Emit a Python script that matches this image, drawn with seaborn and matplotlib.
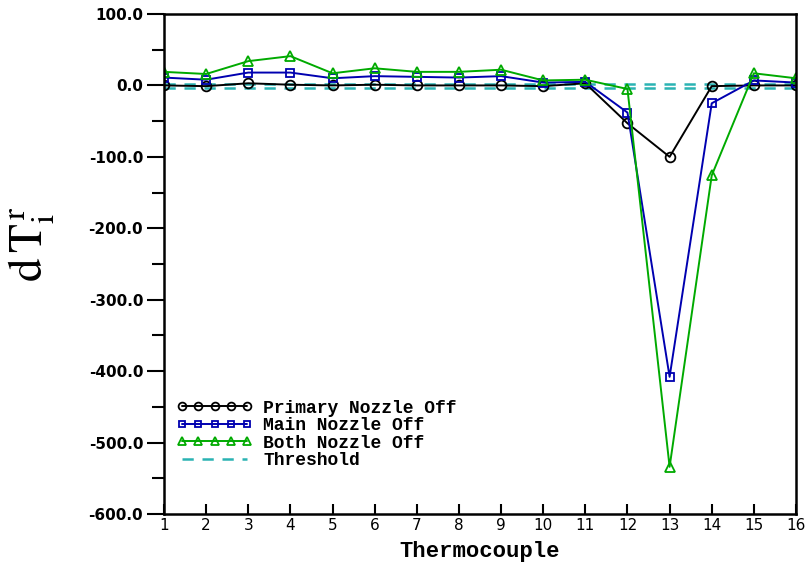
import numpy as np
import pandas as pd
import matplotlib
matplotlib.use("Agg")
import matplotlib.pyplot as plt
import seaborn as sns
from matplotlib.ticker import MultipleLocator, FormatStrFormatter

thermocouple = list(range(1, 17))
primary_off = [0, -1, 3, 1, 0, 1, 0, 0, 0, -1, 3, -53, -100, -1, 0, 0]
main_off = [11, 8, 18, 18, 10, 13, 12, 11, 13, 4, 5, -38, -408, -25, 7, 4]
both_off = [19, 16, 34, 41, 17, 24, 19, 19, 22, 7, 8, -5, -534, -126, 17, 10]
threshold_hi = [2] * 16
threshold_lo = [-3] * 16
series_names = ["Primary Nozzle Off", "Main Nozzle Off", "Both Nozzle Off", "Threshold"]

sns.set_style("ticks")
plt.rcParams["font.family"] = ["DejaVu Sans"]
plt.rcParams["mathtext.fontset"] = "stix"
plt.rcParams["text.color"] = "black"
plt.rcParams["axes.labelcolor"] = "black"
plt.rcParams["xtick.color"] = "black"
plt.rcParams["ytick.color"] = "black"

fig = plt.figure(figsize=(8.07, 5.67), dpi=100)
ax = fig.add_axes([164 / 807, 1 - 514 / 567, (796 - 164) / 807, (514 - 14) / 567])

df = pd.DataFrame({"x": thermocouple, "p": primary_off, "m": main_off, "b": both_off,
                   "th": threshold_hi, "tl": threshold_lo})

common = dict(linewidth=1.4, markersize=7, markerfacecolor="none", markeredgewidth=1.3)
sns.lineplot(data=df, x="x", y="th", ax=ax, color="#2ab3b3", linewidth=1.8,
             linestyle=(0, (4.5, 3.5)), label=series_names[3])
sns.lineplot(data=df, x="x", y="tl", ax=ax, color="#2ab3b3", linewidth=1.8,
             linestyle=(0, (4.5, 3.5)), label="_nolegend_")
sns.lineplot(data=df, x="x", y="p", ax=ax, color="black", marker="o",
             markeredgecolor="black", label=series_names[0], **common)
sns.lineplot(data=df, x="x", y="m", ax=ax, color="#0000b0", marker="s",
             markeredgecolor="#0000b0", label=series_names[1], **{**common, "markersize": 6})
sns.lineplot(data=df, x="x", y="b", ax=ax, color="#00aa00", marker="^",
             markeredgecolor="#00aa00", label=series_names[2], **common)

ax.set_xlim(1, 16)
ax.set_ylim(-600, 100)
ax.xaxis.set_major_locator(MultipleLocator(1))
ax.yaxis.set_major_locator(MultipleLocator(100))
ax.yaxis.set_minor_locator(MultipleLocator(50))
ax.yaxis.set_major_formatter(FormatStrFormatter("%.1f"))

for s in ax.spines.values():
    s.set_linewidth(1.8)
    s.set_color("black")

ax.tick_params(axis="y", which="major", direction="out", length=12, width=1.5,
               labelsize=11, pad=3)
ax.tick_params(axis="y", which="minor", direction="out", length=9, width=1.5)
ax.tick_params(axis="x", which="major", direction="in", length=7, width=1.5,
               labelsize=11, pad=3)
for lab in ax.get_yticklabels():
    lab.set_fontweight("bold")

ax.set_xlabel("Thermocouple", fontsize=16, fontfamily="Liberation Mono",
              fontweight="bold", labelpad=6)
ax.set_ylabel(r"$\mathrm{d\,T}_{\mathrm{i}}^{\,\mathrm{r}}$", fontsize=34)
ax.yaxis.set_label_coords(-0.17, 0.54)

handles, labels = ax.get_legend_handles_labels()
order = [labels.index(n) for n in series_names]
leg = ax.legend([handles[i] for i in order], [labels[i] for i in order],
                loc="lower left", bbox_to_anchor=(0.0, 0.065), frameon=False,
                numpoints=5, handlelength=4.2, handletextpad=0.6, labelspacing=0.02,
                markerscale=0.8, borderaxespad=0.3,
                prop={"family": "Liberation Mono", "weight": "bold", "size": 13})

fig.savefig("out.png", dpi=100)
